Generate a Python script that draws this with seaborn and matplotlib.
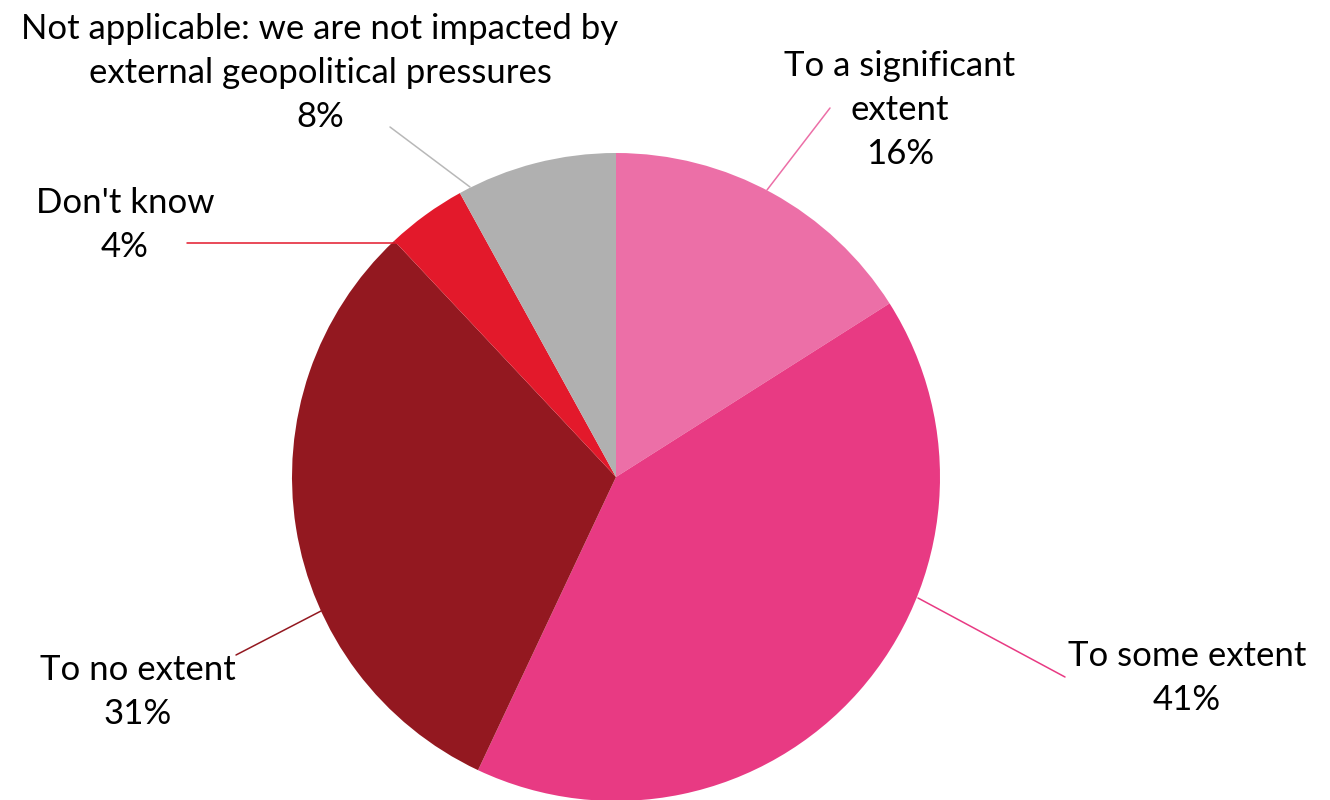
import matplotlib
matplotlib.use("Agg")
from matplotlib import pyplot as plt
import seaborn as sns

# data
labels = ["To a significant\nextent", "To some extent", "To no extent",
          "Don't know", "Not applicable: we are not impacted by\nexternal geopolitical pressures"]
values = [16, 41, 31, 4, 8]
colors = ["#EC6FA7", "#E83A83", "#931820", "#E3192B", "#B0B0B0"]
line_colors = ["#EC6FA7", "#E83A83", "#931820", "#E3192B", "#B8B8B8"]

# label placement (pixel coords of figure) and leader anchor on the pie edge
label_pos = [(900, 110), (1187, 678), (138, 692), (125, 225), (320, 73)]
line_end = [(830, 108), (1065, 677), (236, 655), (187, 243), (390, 127)]
line_start = [(767, 190), (918, 598), (321, 611), (398, 243), (470, 187)]

sns.set_theme(style="white")
plt.rcParams["font.family"] = ["Lato", "DejaVu Sans"]

fig = plt.figure(figsize=(13.3, 8), dpi=100)
ax = fig.add_axes([0, 0, 1, 1])

ax.pie(values, colors=colors, startangle=90, counterclock=False,
       center=(616, -477), radius=324, wedgeprops=dict(linewidth=0))

ax.set_xlim(0, 1330)
ax.set_ylim(-800, 0)
ax.set_aspect("equal")
ax.axis("off")

for i in range(len(values)):
    x0, y0 = line_start[i]
    x1, y1 = line_end[i]
    ax.plot([x0, x1], [-y0, -y1], color=line_colors[i], lw=1.1)
    tx, ty = label_pos[i]
    ax.text(tx, -ty, f"{labels[i]}\n{values[i]}%", ha="center", va="center",
            fontsize=25, color="black", linespacing=1.45)

fig.savefig("out.png", dpi=100)
